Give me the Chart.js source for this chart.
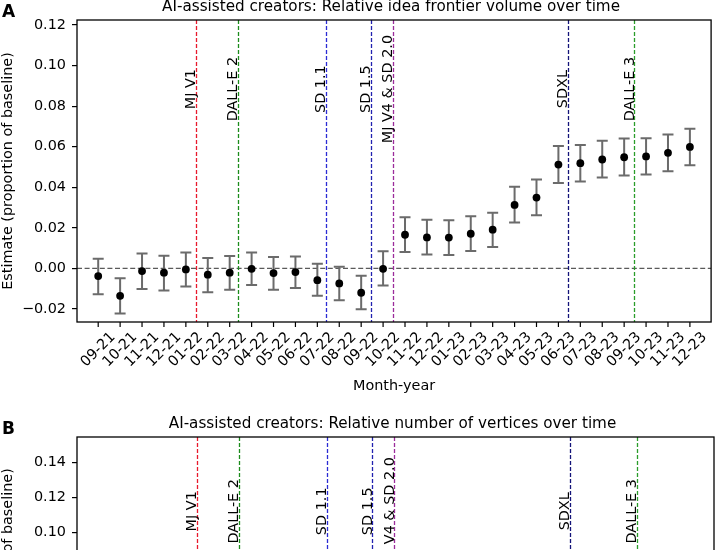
<!DOCTYPE html>
<html><head><meta charset="utf-8">
<script src="https://cdn.jsdelivr.net/npm/chart.js@4.4.1/dist/chart.umd.min.js"></script>
<style>
html,body{margin:0;padding:0;width:715px;height:550px;overflow:hidden;background:#fff}
#ca{position:absolute;left:0;top:0}
#cb{position:absolute;left:0;top:400px}
</style></head><body>
<canvas id="ca" width="715" height="400"></canvas>
<canvas id="cb" width="715" height="400"></canvas>
<script>
// ---------- data ----------
const months = ['09-21','10-21','11-21','12-21','01-22','02-22','03-22','04-22','05-22','06-22','07-22','08-22','09-22','10-22',
                '11-22','12-22','01-23','02-23','03-23','04-23','05-23','06-23','07-23','08-23','09-23','10-23','11-23','12-23'];
const estimateA = [-0.0038,-0.0135,-0.0013,-0.0021,-0.0005,-0.0031,-0.0021,-0.0002,-0.0023,-0.0018,-0.0058,-0.0074,-0.0120,-0.0002,
                   0.0166,0.0153,0.0152,0.0171,0.0191,0.0313,0.0349,0.0512,0.0519,0.0537,0.0548,0.0552,0.0570,0.0599];
const lowerA = [-0.0127,-0.0222,-0.0102,-0.0109,-0.0089,-0.0117,-0.0105,-0.0082,-0.0105,-0.0097,-0.0135,-0.0157,-0.0201,-0.0084,
                0.0081,0.0069,0.0066,0.0086,0.0105,0.0226,0.0262,0.0421,0.0428,0.0448,0.0458,0.0463,0.0479,0.0509];
const upperA = [0.0048,-0.0048,0.0073,0.0063,0.0078,0.0051,0.0061,0.0078,0.0056,0.0059,0.0023,0.0008,-0.0036,0.0084,
                0.0252,0.0240,0.0237,0.0257,0.0275,0.0403,0.0438,0.0603,0.0609,0.0629,0.0641,0.0642,0.0660,0.0688];
const yTicksA = [-0.02,0.00,0.02,0.04,0.06,0.08,0.10,0.12];
const yTicksB = [0.00,0.02,0.04,0.06,0.08,0.10,0.12,0.14];
const releaseNames = ['MJ V1','DALL-E 2','SD 1.1','SD 1.5','MJ V4 & SD 2.0','SDXL','DALL-E 3'];
const releaseAt = [4.47,6.39,10.40,12.45,13.45,21.43,24.47];
const titleA = 'AI-assisted creators: Relative idea frontier volume over time';
const titleB = 'AI-assisted creators: Relative number of vertices over time';

// ---------- styles ----------
const releaseColors = ['#e8192c','#1c8c1c','#2b2bd4','#2222b0','#9b2c9b','#14147a','#2a9d2a'];
const FONT = 'DejaVu Sans';
const FS = 14.4;
const TITLE_FS = 15.2;

function fmt(v){
  if (Math.abs(v) < 1e-9) return '0.00';
  return v.toFixed(2).replace('-', '\u2212');
}

function makePanel(id, cfg){
  const decor = {
    id: 'decor_' + id,
    beforeDatasetsDraw(chart){
      const {ctx, chartArea:a, scales:{x, y}} = chart;
      ctx.save();
      ctx.beginPath(); ctx.rect(a.left, a.top, a.right-a.left, a.bottom-a.top); ctx.clip();
      // zero line
      const y0 = y.getPixelForValue(0);
      ctx.strokeStyle = '#5a5a5a'; ctx.lineWidth = 1.3; ctx.setLineDash([5, 2.6]);
      ctx.beginPath(); ctx.moveTo(a.left, y0); ctx.lineTo(a.right, y0); ctx.stroke();
      // release lines
      ctx.lineWidth = 1.3; ctx.setLineDash([4, 2]);
      releaseAt.forEach((v, i) => {
        const px = Math.round(x.getPixelForValue(v)) + 0.5;
        ctx.strokeStyle = releaseColors[i];
        ctx.beginPath(); ctx.moveTo(px, a.top); ctx.lineTo(px, a.bottom); ctx.stroke();
      });
      ctx.setLineDash([]);
      // error bars
      ctx.strokeStyle = '#6b6b6b'; ctx.lineWidth = 2;
      cfg.lower.forEach((lo, i) => {
        const px = x.getPixelForValue(i);
        const pl = y.getPixelForValue(lo), ph = y.getPixelForValue(cfg.upper[i]);
        ctx.beginPath();
        ctx.moveTo(px, pl); ctx.lineTo(px, ph);
        ctx.moveTo(px-5.5, pl); ctx.lineTo(px+5.5, pl);
        ctx.moveTo(px-5.5, ph); ctx.lineTo(px+5.5, ph);
        ctx.stroke();
      });
      ctx.restore();
    },
    afterDatasetsDraw(chart){
      const {ctx, chartArea:a, scales:{x, y}} = chart;
      ctx.save();
      // release labels
      ctx.fillStyle = '#000'; ctx.font = FS + 'px "' + FONT + '"';
      ctx.textAlign = 'center'; ctx.textBaseline = 'middle';
      const ly = y.getPixelForValue(cfg.labelY);
      releaseAt.forEach((v, i) => {
        const px = x.getPixelForValue(v) - 4.5;
        ctx.save(); ctx.translate(px, ly); ctx.rotate(-Math.PI/2);
        ctx.fillText(releaseNames[i], 0, 0); ctx.restore();
      });
      // frame
      ctx.strokeStyle = '#000'; ctx.lineWidth = 1.3;
      ctx.strokeRect(a.left, a.top, a.right-a.left, a.bottom-a.top);
      // x ticks + rotated labels (centered on tick)
      ctx.lineWidth = 1.2;
      months.forEach((m, i) => {
        const px = x.getPixelForValue(i);
        ctx.beginPath(); ctx.moveTo(px, a.bottom); ctx.lineTo(px, a.bottom + 5); ctx.stroke();
        const w = ctx.measureText(m).width;
        const H = (w + FS*1.164) * Math.SQRT1_2;
        ctx.save(); ctx.translate(px, a.bottom + 7 + H/2); ctx.rotate(-Math.PI/4);
        ctx.fillText(m, 0, 0); ctx.restore();
      });
      // title
      ctx.font = TITLE_FS + 'px "' + FONT + '"';
      ctx.textAlign = 'center'; ctx.textBaseline = 'alphabetic';
      ctx.fillText(cfg.title, (a.left + a.right)/2 - 3, a.top - 9);
      // panel letter
      ctx.font = 'bold 17px "' + FONT + '"'; ctx.textAlign = 'left';
      ctx.fillText(cfg.letter, 2, a.top - 3.5);
      ctx.restore();
    }
  };
  return new Chart(document.getElementById(id), {
    type: 'scatter',
    data: { datasets: [{ data: cfg.points, pointRadius: 3.9, pointHoverRadius: 3.9,
      pointBackgroundColor: '#000', pointBorderWidth: 0 }] },
    options: {
      responsive: false, animation: false, devicePixelRatio: 1,
      layout: { padding: { top: cfg.top, left: 0, right: 1, bottom: 0 } },
      plugins: { legend: { display: false }, tooltip: { enabled: false } },
      scales: {
        x: {
          type: 'linear', min: -0.9675, max: 27.9675,
          afterBuildTicks: s => { s.ticks = months.map((m, i) => ({ value: i })); },
          afterFit: s => { s.height = cfg.xh; },
          ticks: { display: false },
          grid: { display: false }, border: { display: false },
          title: { display: true, text: 'Month-year', color: '#000',
                   font: { family: FONT, size: FS }, padding: { top: 0, bottom: 5.4 } }
        },
        y: {
          type: 'linear', min: cfg.ymin, max: cfg.ymax,
          afterBuildTicks: s => { s.ticks = cfg.yTicks.map(v => ({ value: v })); },
          afterFit: s => { s.width = 77; },
          ticks: { color: '#000', font: { family: FONT, size: FS }, padding: 6, callback: v => fmt(v) },
          grid: { display: true, drawOnChartArea: false, drawTicks: true, tickLength: 5, color: '#000', lineWidth: 1.2 },
          border: { display: false },
          title: { display: true, text: 'Estimate (proportion of baseline)', color: '#000',
                   font: { family: FONT, size: FS }, padding: 0 }
        }
      }
    },
    plugins: [decor]
  });
}

makePanel('ca', {
  points: estimateA.map((v, i) => ({ x: i, y: v })),
  lower: lowerA, upper: upperA,
  ymin: -0.02642, ymax: 0.12247, yTicks: yTicksA,
  top: 20, xh: 78, labelY: 0.0884, title: titleA, letter: 'A'
});
makePanel('cb', {
  points: [],
  lower: [], upper: [],
  ymin: -0.018, ymax: 0.1548, yTicks: yTicksB,
  top: 37, xh: 63, labelY: 0.112, title: titleB, letter: 'B'
});
</script>
</body></html>
